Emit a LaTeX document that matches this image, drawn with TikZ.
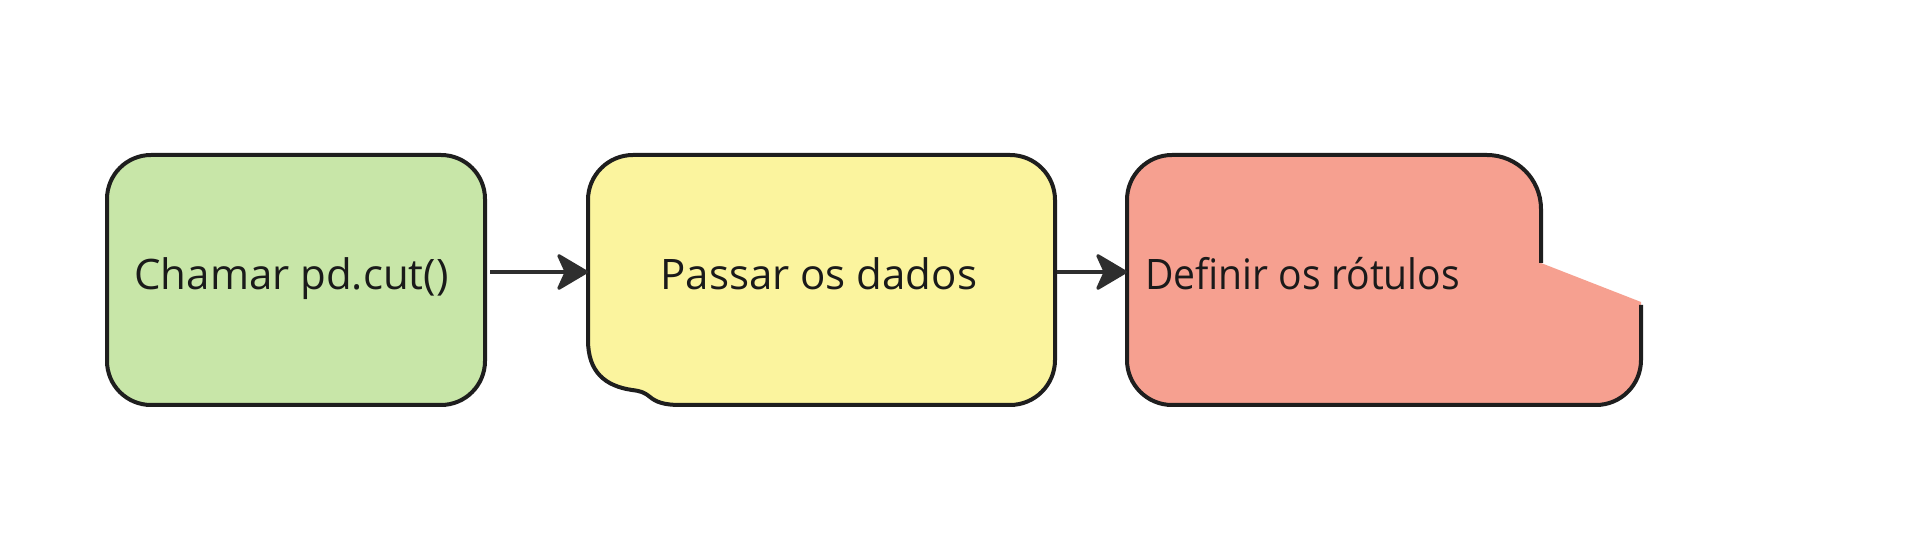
\documentclass[tikz,border=0pt]{standalone}
\usepackage{fontspec}
\setmainfont{Open Sans}
\usetikzlibrary{arrows.meta}
\definecolor{gfill}{HTML}{C8E6A8}
\definecolor{yfill}{HTML}{FBF49E}
\definecolor{rfill}{HTML}{F6A090}
\definecolor{edge}{HTML}{1E1E1E}
\definecolor{arrc}{HTML}{2E2E2E}
\definecolor{txt}{HTML}{1A1A1A}
\tikzset{
  boxarea/.style={inner sep=0pt, outer sep=0pt, minimum width=#1, minimum height=125pt},
  outline/.style={draw=edge, line width=2pt, line join=round},
  lbl/.style={anchor=base west, inner sep=0pt, text=txt, font=\fontsize{21pt}{26pt}\selectfont},
  arr/.style={draw=arrc, line width=1.6pt, -{Stealth[length=17pt, width=20pt, inset=4.5pt, fill=arrc, line join=round]}}
}
\begin{document}
\begin{tikzpicture}[x=0.5pt,y=-0.5pt]
\useasboundingbox (0,0) rectangle (1912,544);
\fill[white] (0,0) rectangle (1912,544);
% green box
\node[boxarea=189pt, fill=gfill, outline, rounded corners=22pt] (gbox) at (296,280) {};
% yellow box
\fill[yfill] (588,200) arc[start angle=180, end angle=270, radius=45] -- (1010,155)
  arc[start angle=-90, end angle=0, radius=45] -- (1055,360)
  arc[start angle=0, end angle=90, radius=45] -- (680,405)
  .. controls (664,405) and (656,402) .. (650,397)
  .. controls (644,392) and (640,391) .. (632,390)
  .. controls (605,386) and (588,372) .. (588,340) -- cycle;
\draw[outline] (588,200) arc[start angle=180, end angle=270, radius=45] -- (1010,155)
  arc[start angle=-90, end angle=0, radius=45] -- (1055,360)
  arc[start angle=0, end angle=90, radius=45] -- (680,405)
  .. controls (664,405) and (656,402) .. (650,397)
  .. controls (644,392) and (640,391) .. (632,390)
  .. controls (605,386) and (588,372) .. (588,340) -- cycle;
\node[boxarea=233.5pt] (ybox) at (821.5,280) {};
% red box
\fill[rfill] (1127,200) arc[start angle=180, end angle=270, radius=45] -- (1487,155)
  arc[start angle=-90, end angle=0, radius=54] -- (1541,263) -- (1641,302) -- (1641,360)
  arc[start angle=0, end angle=90, radius=45] -- (1172,405)
  arc[start angle=90, end angle=180, radius=45] -- cycle;
\draw[outline] (1541,263) -- (1541,209) arc[start angle=0, end angle=-90, radius=54] -- (1172,155)
  arc[start angle=270, end angle=180, radius=45] -- (1127,360)
  arc[start angle=180, end angle=90, radius=45] -- (1596,405)
  arc[start angle=90, end angle=0, radius=45] -- (1641,305);
\node[boxarea=257pt] (rbox) at (1384,280) {};
% labels
\node[lbl] (gt) at (134,290) {Chamar pd.cut()};
\node[lbl] (yt) at (660,290) {Passar os dados};
\node[lbl] (rt) at (1145,290) {\scalebox{0.93}[1]{Definir os rótulos}};
% arrows
\draw[arr] ([xshift=2.5pt,yshift=4pt]gbox.east) -- ([yshift=4pt]ybox.west);
\draw[arr] ([xshift=1pt,yshift=4pt]ybox.east) -- ([yshift=4pt]rbox.west);
\end{tikzpicture}
\end{document}
